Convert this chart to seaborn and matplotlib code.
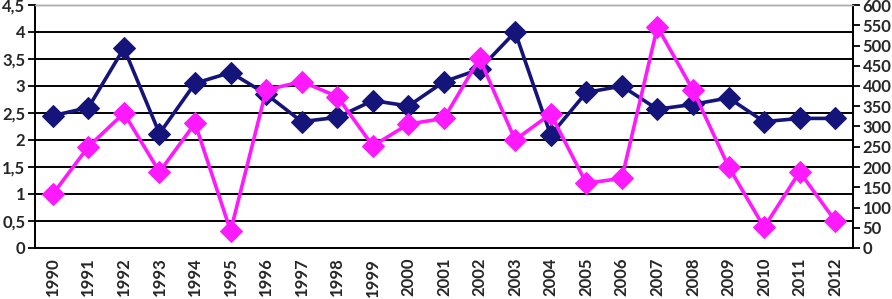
import matplotlib
matplotlib.use("Agg")
import matplotlib.pyplot as plt
import seaborn as sns
import pandas as pd
import numpy as np
from matplotlib.ticker import FixedLocator, FuncFormatter

years = [str(y) for y in range(1990, 2013)]
navy_values = [2.45, 2.6, 3.7, 2.12, 3.05, 3.25, 2.85, 2.34, 2.42, 2.73, 2.63, 3.08,
               3.31, 4.0, 2.09, 2.88, 3.0, 2.57, 2.66, 2.78, 2.34, 2.4, 2.4]
magenta_values = [133, 250, 333, 188, 308, 42, 390, 411, 374, 252, 306, 320,
                  468, 267, 331, 160, 172, 546, 390, 201, 51, 188, 67]

sns.set_style("white")
plt.rcParams['font.family'] = ['Lato', 'DejaVu Sans']
plt.rcParams['font.weight'] = 'bold'

df = pd.DataFrame({"pos": np.arange(len(years)), "navy": navy_values, "magenta": magenta_values})

fig = plt.figure(figsize=(8.92, 2.99), dpi=100)
ax = fig.add_axes([35/892, 1-248/299, (853-35)/892, (248-5)/299])
ax2 = ax.twinx()

for y in np.arange(0.5, 4.01, 0.5):
    ax.axhline(y, color='black', lw=1.4, zorder=0)

sns.lineplot(data=df, x="pos", y="navy", ax=ax, color='#14147a', lw=2.6,
             marker='D', markersize=11, markeredgecolor='#14147a', zorder=3)
sns.lineplot(data=df, x="pos", y="magenta", ax=ax2, color='#ff19ff', lw=2.6,
             marker='D', markersize=11, markeredgecolor='#ff19ff', zorder=3)

ax.set_xlim(-0.5, len(years) - 0.5)
ax.set_ylim(0, 4.5)
ax2.set_ylim(0, 600)
ax.set_xlabel("")
ax.set_ylabel("")
ax2.set_ylabel("")

ax.set_yticks(np.arange(0, 4.51, 0.5))
ax.yaxis.set_major_formatter(FuncFormatter(lambda v, p: ('%g' % v).replace('.', ',')))
ax2.set_yticks(np.arange(0, 601, 50))

ax.set_xticks(np.arange(len(years)))
ax.set_xticklabels(years, rotation=90)
ax.xaxis.set_minor_locator(FixedLocator(np.arange(-0.5, len(years), 1.0)))
ax.tick_params(axis='x', which='major', length=0, pad=7, labelsize=12)
ax.tick_params(axis='x', which='minor', length=6, width=1.3, color='black', direction='out')
ax.tick_params(axis='y', length=5, width=1.3, color='black', direction='out', labelsize=12, pad=2)
ax2.tick_params(axis='y', length=5, width=1.3, color='black', direction='out', labelsize=12, pad=2)

for a in (ax, ax2):
    for s in ('left', 'right', 'bottom'):
        a.spines[s].set_color('black')
        a.spines[s].set_linewidth(1.3)
    a.spines['top'].set_color('#aaaaaa')
    a.spines['top'].set_linewidth(1.0)
ax.grid(False)
ax2.grid(False)

for lab in ax.get_xticklabels() + ax.get_yticklabels() + ax2.get_yticklabels():
    lab.set_fontweight('bold')

fig.savefig("out.png", dpi=100)
